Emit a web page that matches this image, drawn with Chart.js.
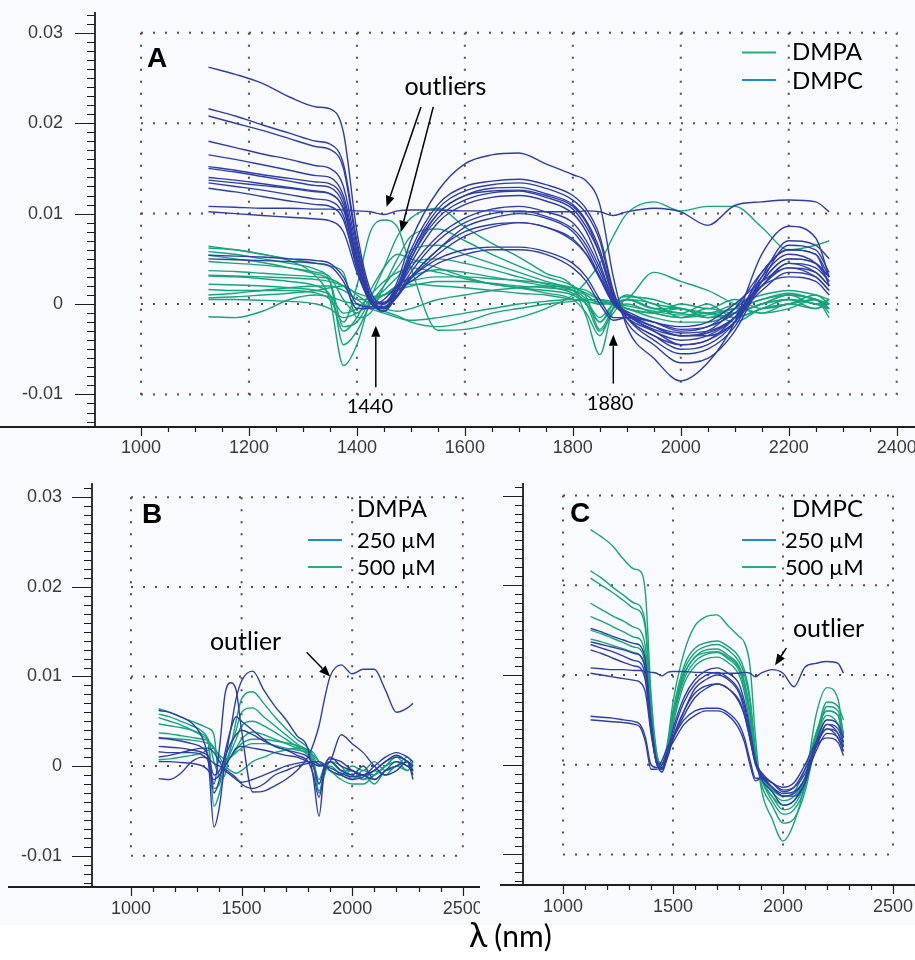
<!DOCTYPE html>
<html>
<head>
<meta charset="utf-8">
<script src="https://cdn.jsdelivr.net/npm/chart.js@4.4.0/dist/chart.umd.min.js"></script>
<style>
  html, body { margin: 0; padding: 0; background: #fff; }
  #wrap { position: relative; width: 915px; height: 960px; overflow: hidden; }
  canvas { position: absolute; }
  #xtitle { position: absolute; left: 469px; top: 917px; font-family: Lato, "Noto Sans", sans-serif; line-height: 1; color: #000; white-space: nowrap; }
</style>
</head>
<body>
<div id="wrap">
  <canvas id="chartA" width="915" height="465" style="left:0;top:0"></canvas>
  <canvas id="chartB" width="480" height="460" style="left:0;top:465px"></canvas>
  <canvas id="chartC" width="435" height="460" style="left:480px;top:465px"></canvas>
  <div id="xtitle"><span style="font-size:34px">λ</span><span style="font-size:30px;margin-left:7px">(nm)</span></div>
</div>
<script>
// wavelengths (nm) shared by every spectrum
const wavelengths = [1125, 1175, 1225, 1275, 1325, 1350, 1375, 1400, 1425, 1450, 1475, 1500, 1550, 1600, 1650, 1700,
  1750, 1800, 1825, 1850, 1875, 1900, 1950, 2000, 2050, 2100, 2150, 2200, 2250, 2275];

// spectra, values in units of 0.001
const dmpa500 = [
  [6.4, 6.0, 5.5, 5.0, 4.5, 4.2, 3.5, -1.5, -1.0, 2.0, 5.0, 7.5, 8.3, 7.0, 5.5, 4.2, 3.0, 2.0, 0.8, -2.8, -0.5, 0.5, -0.5, -1.0, -1.5, -0.5, -1.0, 0.0, -0.5, 0.5],
  [5.8, 5.5, 5.0, 4.5, 3.8, 2.5, -4.5, -3.0, 0.0, 2.0, 4.0, 6.0, 6.5, 5.5, 4.5, 3.5, 2.5, 1.5, 0.0, -3.0, -1.0, 0.5, 0.0, -1.5, -0.5, -1.0, 0.0, 0.5, -0.5, 0.0],
  [5.4, 5.0, 4.6, 4.0, 3.3, 2.5, -2.5, -2.0, 0.3, 1.5, 3.0, 4.5, 5.0, 4.5, 3.8, 3.0, 2.2, 1.5, 0.5, -2.0, -0.5, 0.0, -1.0, -1.5, -1.0, -2.0, -0.5, 0.0, 0.5, -0.5],
  [4.7, 4.5, 4.3, 4.0, 3.5, 3.0, 0.5, -1.0, 0.5, 1.0, 2.0, 3.0, 3.8, 3.5, 3.0, 2.5, 2.0, 1.2, 0.3, -1.5, 0.0, 0.5, -0.5, -0.5, -1.5, -1.0, 0.0, 1.0, 0.0, 0.5],
  [3.7, 3.6, 3.4, 3.2, 3.0, 2.8, 2.0, 0.5, 0.5, 1.0, 1.5, 2.0, 2.5, 2.5, 2.3, 2.0, 1.8, 1.5, 1.0, 0.0, 0.0, -0.5, -1.0, 0.0, -0.5, 0.5, -0.5, 0.0, 1.0, 0.0],
  [3.2, 3.1, 3.0, 2.9, 2.7, 2.5, 2.0, 1.2, 0.8, 1.0, 1.8, 2.5, 3.0, 3.0, 2.8, 2.6, 2.3, 1.8, 1.2, 0.5, 0.0, -0.5, -1.5, -2.0, -2.0, -1.0, 0.0, 1.0, 0.5, 0.0],
  [0.7, 0.8, 1.0, 1.2, 1.5, 1.8, 2.0, 1.0, 0.0, -0.5, -0.8, -0.5, 0.5, 1.0, 1.5, 1.8, 2.0, 1.8, 1.5, 0.5, 0.0, -0.5, -1.0, -0.5, -1.5, -1.0, 0.0, 0.5, 0.0, -0.5]
];
const dmpa250 = [
  [6.2, 6.0, 5.5, 4.8, 3.0, 0.5, -6.8, -4.5, 0.5, 4.0, 7.5, 9.5, 10.6, 8.5, 6.7, 5.2, 3.4, 1.9, -1.4, -5.6, -0.3, 0.8, 0.5, -0.5, -1.0, 0.0, 1.0, 1.5, 1.0, 0.5],
  [1.6, 1.5, 1.5, 1.5, 1.2, 0.5, -2.0, 2.0, 8.0, 9.3, 8.5, 4.0, -2.9, -2.8, -2.2, -1.5, -0.5, 1.0, 2.5, 4.5, 7.5, 10.0, 11.3, 10.3, 10.8, 10.8, 8.5, 6.0, 6.5, 7.0],
  [3.1, 3.0, 2.8, 2.5, 2.0, 1.0, -3.0, -1.5, 1.5, 4.0, 5.5, 5.0, 4.0, 3.0, 2.2, 1.8, 1.2, 0.5, -1.0, -3.5, -0.5, 0.5, -0.5, -1.0, 0.0, -1.5, -0.5, 0.5, 0.0, -0.5],
  [2.2, 2.1, 2.0, 1.8, 1.5, 1.0, -1.0, -0.5, 1.0, 2.5, 3.5, 4.0, 3.5, 2.8, 2.2, 1.8, 1.5, 1.0, 0.0, -2.0, 0.0, 1.0, 0.0, -0.5, -1.0, -1.5, -0.5, 0.0, 0.5, -1.0],
  [1.0, 1.2, 1.5, 1.8, 2.0, 2.0, 1.5, 0.5, -0.5, -1.0, -1.5, -1.8, -1.5, -1.0, -0.5, 0.0, 0.3, 0.5, 0.5, 0.2, 0.0, -0.2, -0.8, -1.2, -1.0, -0.5, 0.5, 1.0, 0.5, -0.5],
  [0.5, 0.5, 0.4, 0.3, 0.0, -0.5, -1.5, -1.0, 0.0, 1.0, 2.0, 2.2, 2.0, 1.8, 1.5, 1.2, 1.0, 0.5, 0.3, 0.0, 0.2, 0.5, 3.5, 2.5, 1.5, 0.0, -1.0, -0.5, 0.5, -1.5],
  [-1.4, -1.5, -0.8, 0.5, 1.0, 0.8, 0.3, 0.0, -0.3, -0.8, -1.3, -2.0, -2.5, -2.0, -1.0, -0.5, 0.0, 0.3, 0.5, 0.5, 0.2, -0.5, -1.0, -1.5, -1.2, -0.5, 0.5, 1.2, 0.5, 0.0]
];
const dmpc500 = [
  [26.2, 25.4, 24.4, 22.9, 21.8, 21.6, 19.0, 8.0, 1.5, 0.0, 2.5, 7.0, 12.5, 15.5, 16.5, 16.7, 15.5, 14.3, 13.6, 11.0, 3.0, -2.5, -6.0, -8.5, -6.5, -2.0, 5.5, 8.6, 7.3, 3.0],
  [21.6, 20.8, 19.8, 18.9, 18.0, 17.7, 15.5, 7.0, 1.0, -0.5, 2.0, 6.0, 11.0, 13.0, 13.6, 13.8, 13.2, 12.0, 10.5, 7.5, 1.5, -2.0, -4.5, -6.5, -6.0, -3.0, 2.5, 6.5, 6.0, 3.5],
  [20.8, 20.0, 19.2, 18.3, 17.4, 17.1, 15.0, 6.5, 0.8, -0.8, 1.5, 5.5, 10.5, 12.5, 13.2, 13.4, 12.8, 11.5, 10.0, 7.0, 1.2, -1.5, -4.0, -5.5, -5.0, -2.5, 3.0, 7.0, 6.5, 5.0],
  [18.0, 17.3, 16.6, 16.0, 15.3, 15.0, 13.0, 6.0, 0.5, -0.5, 1.5, 5.0, 10.0, 12.0, 12.8, 12.9, 12.2, 11.0, 9.2, 6.0, 1.0, -1.5, -3.5, -5.0, -4.5, -2.0, 3.5, 6.0, 5.5, 3.0],
  [16.5, 16.0, 15.4, 14.8, 14.2, 14.0, 12.0, 5.5, 0.3, -0.3, 1.5, 5.0, 9.5, 11.5, 12.3, 12.5, 11.8, 10.5, 8.5, 5.5, 0.8, -1.0, -3.0, -4.0, -3.5, -1.5, 3.0, 5.5, 4.5, 2.5],
  [15.0, 14.6, 14.1, 13.6, 13.1, 12.9, 11.0, 5.0, 0.5, 0.2, 2.0, 5.5, 10.0, 12.0, 12.5, 12.6, 12.0, 10.8, 9.0, 5.5, 0.8, -1.5, -3.5, -4.5, -4.0, -1.5, 2.5, 5.0, 4.5, 3.0],
  [14.0, 13.7, 13.3, 12.9, 12.5, 12.2, 10.5, 4.5, 0.2, -0.5, 1.5, 4.5, 9.0, 11.0, 11.8, 12.0, 11.4, 10.0, 8.0, 4.5, 0.5, -1.2, -2.8, -3.5, -3.0, -0.5, 3.5, 6.0, 5.5, 2.0]
];
const dmpc250 = [
  [15.2, 14.8, 14.3, 13.9, 13.5, 13.3, 11.5, 5.0, 0.5, 0.0, 1.5, 4.0, 7.5, 9.5, 10.5, 10.8, 10.2, 9.0, 7.0, 4.0, 0.5, -1.0, -2.0, -3.0, -2.5, -0.5, 2.0, 4.5, 3.5, 2.0],
  [13.7, 13.4, 13.1, 12.8, 12.4, 12.2, 10.5, 4.5, 0.3, -0.8, 1.0, 3.5, 7.0, 9.0, 10.0, 10.3, 9.7, 8.3, 6.5, 3.5, 0.3, -1.5, -3.0, -4.5, -4.0, -2.0, 2.5, 5.0, 4.5, 3.0],
  [13.4, 13.0, 12.6, 12.1, 11.6, 11.4, 9.8, 4.0, 0.3, -0.3, 1.0, 3.0, 6.0, 8.5, 9.5, 10.0, 9.5, 8.0, 6.0, 3.0, 0.2, -0.8, -2.0, -2.5, -2.0, 0.0, 2.5, 4.0, 3.5, 2.0],
  [12.8, 12.4, 11.9, 11.4, 11.0, 10.8, 9.3, 4.0, 0.2, -0.5, 0.8, 2.8, 5.5, 7.5, 8.5, 9.0, 8.5, 7.2, 5.5, 2.8, 0.0, -1.2, -2.5, -3.5, -3.2, -1.5, 2.0, 4.0, 3.0, 1.5],
  [10.8, 10.7, 10.6, 10.6, 10.5, 10.5, 10.4, 10.3, 10.2, 9.9, 10.3, 10.4, 10.4, 10.3, 10.3, 10.2, 10.2, 10.2, 10.3, 10.2, 9.8, 10.2, 10.6, 10.2, 8.7, 10.9, 11.3, 11.5, 11.3, 10.2],
  [10.2, 10.0, 9.8, 9.6, 9.4, 9.2, 8.0, 3.5, 0.2, -0.5, 1.0, 3.0, 6.0, 8.0, 8.8, 9.0, 8.5, 7.0, 5.5, 3.0, 0.3, -1.0, -2.5, -3.5, -3.5, -2.0, 2.0, 4.5, 4.0, 2.5],
  [5.4, 5.3, 5.2, 5.0, 4.8, 4.5, 3.0, 0.0, -0.3, 0.5, 2.0, 3.0, 5.0, 6.0, 6.3, 6.3, 5.8, 4.5, 3.0, 0.5, -1.5, -1.5, -2.5, -3.2, -3.0, -1.5, 1.5, 3.5, 3.0, 1.5],
  [5.0, 4.9, 4.8, 4.7, 4.5, 4.2, 2.5, -0.5, -0.5, 0.0, 1.5, 2.5, 4.5, 5.5, 6.0, 6.0, 5.5, 4.0, 2.5, 0.0, -1.8, -1.5, -2.0, -2.8, -2.5, -1.0, 2.0, 3.0, 2.5, 1.0]
];

const xTicksA = [1000, 1200, 1400, 1600, 1800, 2000, 2200, 2400];
const xTicksBC = [1000, 1500, 2000, 2500];
const yTicks = [-0.01, 0, 0.01, 0.02, 0.03];
const yTickLabels = ['-0.01', '0', '0.01', '0.02', '0.03'];

const BLUE = '#2f3ea6';
const GREEN = '#17a57a';
const LEG_BLUE = '#1d8bd8';
const LEG_GREEN = '#27ae79';
const TICK_FONT = { family: "'Liberation Sans', Arial, sans-serif", size: 18 };
const TICK_COLOR = '#3a3a3a';
const BOLD = "bold 28px 'Liberation Sans', Arial, sans-serif";
const LEG = "24px Lato, sans-serif";
const LEG2 = "22px Lato, sans-serif";
const NOTE = "25px Lato, sans-serif";
const NUM = "20px Lato, sans-serif";

function series(values, color) {
  return {
    data: values.map((v, i) => ({ x: wavelengths[i], y: v / 1000 })),
    borderColor: color,
    borderWidth: 1.4,
    pointRadius: 0,
    fill: false,
    cubicInterpolationMode: 'monotone'
  };
}

function drawArrow(ctx, x1, y1, x2, y2) {
  const ang = Math.atan2(y2 - y1, x2 - x1);
  const hl = 11, hw = 4.5;
  const bx = x2 - Math.cos(ang) * hl, by = y2 - Math.sin(ang) * hl;
  ctx.beginPath();
  ctx.moveTo(x1, y1);
  ctx.lineTo(bx, by);
  ctx.stroke();
  ctx.beginPath();
  ctx.moveTo(x2, y2);
  ctx.lineTo(bx - Math.sin(ang) * hw, by + Math.cos(ang) * hw);
  ctx.lineTo(bx + Math.sin(ang) * hw, by - Math.cos(ang) * hw);
  ctx.closePath();
  ctx.fill();
}

// dotted grid, axes with major/minor ticks, and the annotations
const frame = {
  id: 'frame',
  beforeDraw(chart) {
    const ctx = chart.ctx;
    ctx.save();
    ctx.fillStyle = '#f9fafd';
    ctx.fillRect(0, 0, chart.width, chart.height);
    ctx.restore();
  },
  beforeDatasetsDraw(chart, args, o) {
    const { ctx, chartArea: a, scales: { x, y } } = chart;
    ctx.save();
    const gx = o.gridX.map(v => x.getPixelForValue(v));
    const gy = yTicks.map(v => y.getPixelForValue(v));
    const xl = Math.min(...gx), xr = Math.max(...gx);
    const yt = Math.min(...gy), yb = Math.max(...gy);
    ctx.strokeStyle = '#5b4c4c';
    ctx.lineWidth = 2;
    ctx.setLineDash([2, 10]);
    gx.forEach(px => { ctx.beginPath(); ctx.moveTo(px, yt); ctx.lineTo(px, yb + 1); ctx.stroke(); });
    gy.forEach(py => { ctx.beginPath(); ctx.moveTo(xl, py); ctx.lineTo(xr + 1, py); ctx.stroke(); });
    ctx.setLineDash([]);

    ctx.strokeStyle = '#1e1e1e';
    ctx.lineWidth = 1.8;
    ctx.beginPath();
    ctx.moveTo(a.left, a.top);
    ctx.lineTo(a.left, a.bottom);
    ctx.moveTo(o.axisFrom, a.bottom);
    ctx.lineTo(a.right, a.bottom);
    ctx.stroke();

    ctx.lineWidth = 1.2;
    ctx.beginPath();
    for (let k = Math.ceil(y.min * 1000); k <= Math.floor(y.max * 1000); k++) {
      const py = Math.round(y.getPixelForValue(k / 1000)) + 0.5;
      const len = k % 10 === 0 ? 20 : 8;
      ctx.moveTo(a.left - len, py);
      ctx.lineTo(a.left, py);
    }
    for (let v = o.gridX[0]; v <= x.max; v += o.minorX) {
      const px = Math.round(x.getPixelForValue(v)) + 0.5;
      const len = o.gridX.includes(v) ? 9 : 5;
      ctx.moveTo(px, a.bottom);
      ctx.lineTo(px, a.bottom + len);
    }
    ctx.stroke();
    ctx.restore();
  },
  afterDatasetsDraw(chart, args, o) {
    const { ctx, scales: { x, y } } = chart;
    ctx.save();
    ctx.fillStyle = '#000';
    ctx.strokeStyle = '#000';
    ctx.lineWidth = 1.5;
    ctx.textBaseline = 'alphabetic';
    (o.texts || []).forEach(t => {
      ctx.font = t[3];
      ctx.textAlign = 'left';
      ctx.fillText(t[0], t[1], t[2]);
    });
    (o.swatches || []).forEach(s => {
      ctx.save();
      ctx.strokeStyle = s[3];
      ctx.lineWidth = 2;
      ctx.beginPath();
      ctx.moveTo(s[0], s[2]);
      ctx.lineTo(s[1], s[2]);
      ctx.stroke();
      ctx.restore();
    });
    (o.notes || []).forEach(n => {
      ctx.font = n[3];
      ctx.textAlign = 'center';
      ctx.fillText(n[0], x.getPixelForValue(n[1]), y.getPixelForValue(n[2] / 1000));
    });
    (o.arrows || []).forEach(ar => {
      drawArrow(ctx, x.getPixelForValue(ar[0]), y.getPixelForValue(ar[1] / 1000),
        x.getPixelForValue(ar[2]), y.getPixelForValue(ar[3] / 1000));
    });
    ctx.restore();
  }
};

function noPad(s) {
  s.paddingLeft = 0; s.paddingRight = 0; s.paddingTop = 0; s.paddingBottom = 0;
}

function makeScales(xMin, xMax, xTicks, xHeight, xPad, yMin, yMax, yWidth, yPad, showY) {
  return {
    x: {
      type: 'linear', min: xMin, max: xMax,
      afterFit: s => { s.height = xHeight; noPad(s); },
      afterBuildTicks: s => { s.ticks = xTicks.map(v => ({ value: v })); },
      grid: { display: false, drawTicks: false },
      border: { display: false },
      ticks: { padding: xPad, color: TICK_COLOR, font: TICK_FONT, maxRotation: 0, autoSkip: false, callback: v => String(v) }
    },
    y: {
      type: 'linear', min: yMin, max: yMax,
      afterFit: s => { s.width = yWidth; noPad(s); },
      afterBuildTicks: s => { s.ticks = yTicks.map(v => ({ value: v })); },
      grid: { display: false, drawTicks: false },
      border: { display: false },
      ticks: { display: showY, padding: yPad, color: TICK_COLOR, font: TICK_FONT, autoSkip: false, callback: (v, i) => yTickLabels[i] }
    }
  };
}

function makeChart(id, datasets, scales, top, frameOpts) {
  return new Chart(document.getElementById(id), {
    type: 'line',
    data: { datasets },
    options: {
      responsive: false,
      animation: false,
      events: [],
      layout: { padding: { top: top, left: 0, right: 0, bottom: 0 }, autoPadding: false },
      plugins: { legend: { display: false }, tooltip: { enabled: false }, frame: frameOpts },
      scales
    },
    plugins: [frame]
  });
}

// A: all spectra, coloured by lipid
makeChart('chartA',
  [...dmpc250, ...dmpc500].map(s => series(s, BLUE)).concat([...dmpa250, ...dmpa500].map(s => series(s, GREEN))),
  makeScales(914.8, 2433.9, xTicksA, 38, 10, -0.0136, 0.0323, 95, 32, true), 12,
  {
    gridX: xTicksA, minorX: 50, axisFrom: 0,
    texts: [['A', 147, 67, BOLD], ['DMPA', 792, 60, LEG], ['DMPC', 792, 89, LEG]],
    swatches: [[742, 776, 52.5, LEG_GREEN], [742, 776, 80, LEG_BLUE]],
    notes: [['outliers', 1564, 23.1, NOTE], ['1440', 1424, -12.0, NUM], ['1880', 1869, -11.7, NUM]],
    arrows: [[1518.7, 21.8, 1455, 10.75], [1541.5, 21.8, 1481.7, 8.0], [1435, -9.2, 1435, -2.4], [1875, -8.8, 1875, -3.4]]
  });

// B: DMPA spectra, coloured by concentration
makeChart('chartB',
  dmpa250.map(s => series(s, BLUE)).concat(dmpa500.map(s => series(s, GREEN))),
  makeScales(823.7, 2577.8, xTicksBC, 38, 11, -0.0135, 0.0316, 92, 30, true), 18,
  {
    gridX: xTicksBC, minorX: 100, axisFrom: 8,
    texts: [['B', 142, 58, BOLD], ['DMPA', 357, 52, LEG], ['250 µM', 357, 83, LEG2], ['500 µM', 357, 110, LEG2]],
    swatches: [[308, 342, 75, LEG_BLUE], [308, 342, 102, LEG_GREEN]],
    notes: [['outlier', 1518, 13.0, NOTE]],
    arrows: [[1794, 12.7, 1900, 10.0]]
  });

// C: DMPC spectra, coloured by concentration
makeChart('chartC',
  dmpc250.map(s => series(s, BLUE)).concat(dmpc500.map(s => series(s, GREEN))),
  makeScales(818, 2600, xTicksBC, 40, 11, -0.0134, 0.0314, 43, 30, false), 18,
  {
    gridX: xTicksBC, minorX: 100, axisFrom: 20,
    texts: [['C', 90, 57, BOLD], ['DMPC', 312, 52, LEG], ['250 µM', 305, 83, LEG2], ['500 µM', 305, 110, LEG2]],
    swatches: [[262, 296, 75, LEG_BLUE], [262, 296, 102, LEG_GREEN]],
    notes: [['outlier', 2207, 14.2, NOTE]],
    arrows: [[2015, 13.0, 1964, 11.1]]
  });
</script>
</body>
</html>
